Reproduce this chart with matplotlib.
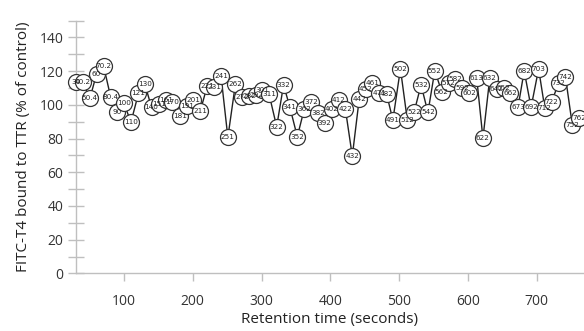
import matplotlib
matplotlib.use("Agg")
import matplotlib.pyplot as plt
from matplotlib.ticker import MultipleLocator

labels = ["30", "40.2", "50.4", "60", "70.2", "80.4", "90", "100", "110", "121",
          "130", "140", "151", "161", "170", "181", "191", "201", "211", "221",
          "231", "241", "251", "262", "272", "282", "292", "301", "311", "322",
          "332", "341", "352", "362", "372", "382", "392", "402", "412", "422",
          "432", "442", "452", "461", "471", "482", "491", "502", "512", "522",
          "532", "542", "552", "562", "572", "582", "592", "602", "613", "622",
          "632", "642", "652", "662", "673", "682", "692", "703", "712", "722",
          "732", "742", "752", "762"]
retention = [float(s) for s in labels]
binding = [113.4, 113.4, 103.9, 118.3, 123.1, 104.9, 95.9, 100.9, 89.6, 106.8,
           112.6, 98.5, 100.3, 102.9, 101.9, 93.2, 99.3, 102.9, 96.5, 111.2,
           110.8, 117.3, 80.7, 112.4, 104.9, 105.2, 105.8, 108.8, 106.2, 87.0,
           111.8, 98.9, 81.1, 97.3, 101.9, 95.0, 89.0, 97.3, 102.9, 97.3,
           69.6, 103.3, 109.2, 112.8, 106.8, 106.2, 91.0, 121.3, 91.0, 95.9,
           111.8, 95.5, 120.3, 107.8, 112.8, 115.1, 109.8, 107.2, 115.7, 80.1,
           116.1, 109.4, 109.8, 106.8, 98.5, 120.1, 98.5, 121.3, 97.9, 101.9,
           112.8, 116.7, 88.0, 92.0]

plt.rcParams['font.family'] = ['Open Sans', 'DejaVu Sans']

fig = plt.figure(figsize=(5.84, 3.31), dpi=100)
ax = fig.add_axes([0.130, 0.174, 0.870, 0.764])

ax.plot(retention, binding, color="#222222", lw=1.0, zorder=2, clip_on=False)
ax.plot(retention, binding, ls="none", marker="o", ms=11.5, mfc="white",
        mec="#333333", mew=0.9, zorder=3, clip_on=False)
for x, y, s in zip(retention, binding, labels):
    ax.text(x, y, s, ha="center", va="center", fontsize=5.2,
            family="DejaVu Sans", color="#222222", zorder=4, clip_on=False)

ax.set_xlim(30, 769)
ax.set_ylim(0, 150)
ax.set_xticks([100, 200, 300, 400, 500, 600, 700])
ax.set_yticks([0, 20, 40, 60, 80, 100, 120, 140])
ax.yaxis.set_minor_locator(MultipleLocator(10))

for sp in ["top", "right"]:
    ax.spines[sp].set_visible(False)
for sp in ["left", "bottom"]:
    ax.spines[sp].set_color("#bfbfbf")
    ax.spines[sp].set_linewidth(1.0)

ax.tick_params(axis="y", which="both", direction="inout", length=12,
               color="#bfbfbf", width=1.0, labelsize=10, labelcolor="#333333", pad=3)
ax.tick_params(axis="x", which="major", direction="out", length=6,
               color="#bfbfbf", width=1.0, labelsize=10, labelcolor="#333333", pad=9)

ax.set_xlabel("Retention time (seconds)", fontsize=11, color="#222222", labelpad=2)
ax.set_ylabel("FITC-T4 bound to TTR (% of control)", fontsize=11, color="#222222", labelpad=6)

fig.savefig("out.png", dpi=100)
